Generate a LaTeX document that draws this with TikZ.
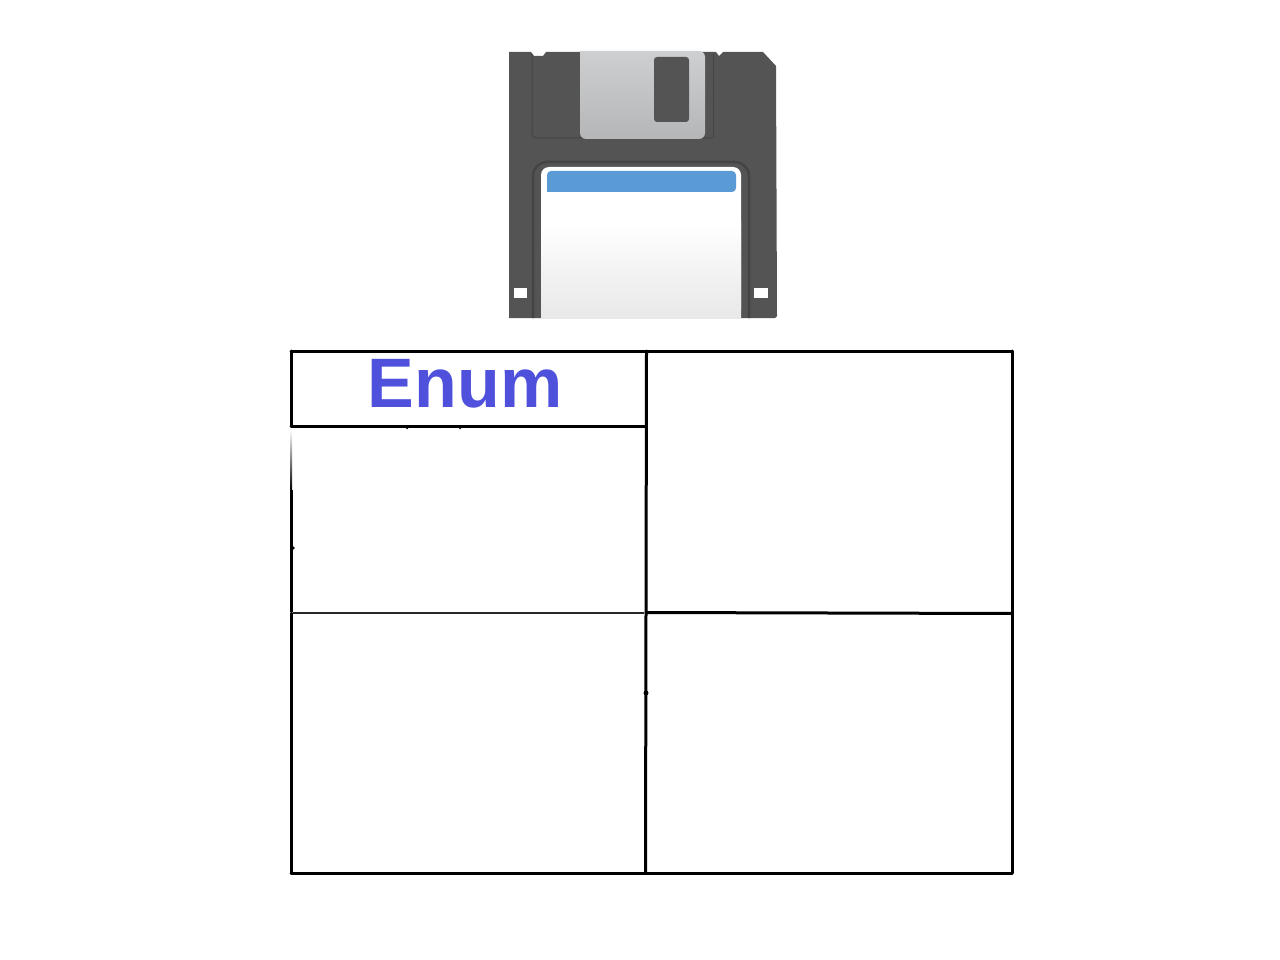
\documentclass[tikz,border=0pt]{standalone}
\usepackage{fontspec}
\setmainfont{Liberation Sans}
\definecolor{diskdark}{HTML}{545454}
\definecolor{diskline}{HTML}{444444}
\definecolor{shutterA}{HTML}{CDCFD1}
\definecolor{shutterB}{HTML}{B4B6B8}
\definecolor{labelblue}{HTML}{5B9BD5}
\definecolor{enumblue}{HTML}{4F50DC}
\tikzset{
  grid/.style={draw=black,line width=3pt,line cap=round},
  thinedge/.style={draw=black,line width=3pt,line cap=butt},
  faintline/.style={draw=black!85,line width=2pt},
  speck/.style={fill=black,inner sep=0pt,minimum size=5pt,circle},
}
\begin{document}
\begin{tikzpicture}[x=1pt,y=-1pt]
\useasboundingbox (0,0) rectangle (1280,960);
\fill[white] (0,0) rectangle (1280,960);
% floppy body
\fill[diskdark] (509,52) -- (531,52) -- (534,56) -- (543,56) -- (546,52) -- (716,52) -- (719,56) -- (723,52) -- (763,52) -- (776,66) -- (777,316) -- (775,318) -- (509,318) -- cycle;
% body recess lines
\draw[diskline,line width=1pt] (532,54) -- (532,132) .. controls (532,137) and (534,138) .. (538,138) -- (712,138);
\draw[diskline,line width=1pt] (713,54) -- (713,138);
% shutter
\shade[top color=shutterA,bottom color=shutterB,rounded corners=6pt] (580,51) -- (580,139) -- (705,139) -- (705,51) [sharp corners] -- cycle;
\fill[diskdark,rounded corners=3pt] (654,57) rectangle (689,122);
% label recess and label
\draw[diskline,line width=2.5pt,rounded corners=14pt] (533,318) -- (533,162) -- (749,162) -- (749,318);
\fill[white,rounded corners=8pt] (541,318) -- (541,167) -- (741,167) -- (741,318) [sharp corners] -- cycle;
\shade[top color=white,bottom color=black!9] (541,222) rectangle (741,318);
\fill[labelblue,rounded corners=4pt] (547,192) -- (547,171) -- (736,171) -- (736,192) [sharp corners] -- cycle;
% write-protect holes
\fill[white] (514,288) rectangle (527,298);
\fill[white] (754,288) rectangle (768,298);
% table
\draw[grid] (291,351) -- (1012,351);
\draw[grid] (291,426) -- (646,426);
\draw[faintline] (293,612.5) -- (644,612.5);
\draw[grid] (646,612.5) -- (1012,613.5);
\draw[grid] (291,873) -- (1012,873);
\draw[grid] (291,351) -- (291,426);
\shade[top color=white,bottom color=black] (290,430) rectangle (292,490);
\draw[thinedge] (291,490) -- (291,612);
\draw[grid] (291,613) -- (291,873);
\draw[grid] (646.5,351) -- (645.5,873);
\draw[grid] (1012,351) -- (1012,873);
\node[speck] (dotA) at (646,693) {};
\node[speck,minimum size=3.5pt] (dotB) at (293,548) {};
\node[speck,minimum size=3.5pt] (dotC) at (407,427.5) {};
\node[speck,minimum size=3.5pt] (dotD) at (460,427.5) {};
\node[text=enumblue,font=\bfseries\fontsize{70}{70}\selectfont,inner sep=0pt,anchor=base] (enum) at (465,407) {Enum};
\end{tikzpicture}
\end{document}
